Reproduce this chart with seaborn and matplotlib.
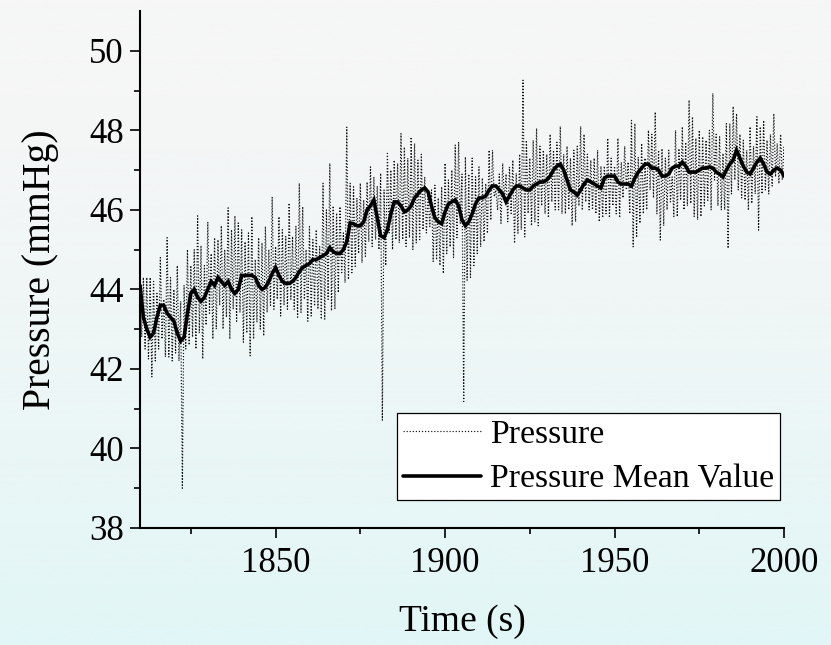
import numpy as np
import matplotlib
matplotlib.use("Agg")
import matplotlib.pyplot as plt
from matplotlib.ticker import FixedLocator
import seaborn as sns

# ---------------- data ----------------
start_time = 1810  # s, one beat (high, low) per second

pressure_high = [
    44.3, 44.3, 44.3, 44.3, 44.2, 43.9, 44.8, 43.75, 45.3, 44.3,
    44.0, 44.6, 43.7, 44.1, 45.0, 44.6, 45.0, 45.85, 45.1, 44.6,
    45.7, 44.9, 45.3, 45.25, 45.6, 45.0, 46.05, 45.5, 45.85, 45.67,
    45.5, 45.2, 45.42, 45.83, 44.75, 45.3, 45.17, 45.58, 45.0, 46.33,
    45.08, 45.83, 45.5, 45.33, 46.17, 45.33, 45.6, 46.67, 46.08, 45.0,
    45.58, 45.25, 45.5, 45.08, 46.67, 46.0, 47.17, 46.1, 45.92, 46.08,
    45.42, 48.08, 46.67, 46.58, 46.3, 46.67, 46.25, 46.7, 47.08, 46.83,
    46.6, 46.92, 46.5, 47.42, 47.0, 47.25, 47.17, 47.92, 47.58, 47.3,
    47.83, 47.67, 47.25, 47.4, 46.83, 46.42, 46.5, 46.62, 46.3, 46.58,
    47.17, 46.75, 47.0, 47.63, 47.71, 46.9, 47.33, 46.9, 47.3, 46.83,
    47.08, 46.8, 46.66, 47.5, 47.5, 46.5, 46.9, 47.17, 46.9, 47.08,
    47.25, 46.92, 47.4, 49.26, 47.75, 47.3, 47.75, 48.05, 47.6, 47.5,
    47.4, 47.9, 47.5, 47.7, 48.1, 47.4, 47.6, 47.3, 47.5, 47.6,
    48.1, 47.9, 47.4, 47.25, 47.3, 47.5, 47.1, 47.1, 47.8, 47.3,
    47.1, 47.8, 47.2, 47.6, 47.2, 48.25, 48.17, 47.33, 47.67, 47.3,
    48.0, 47.9, 48.46, 47.5, 47.54, 47.3, 47.5, 46.83, 48.0, 47.54,
    48.09, 47.7, 48.76, 48.34, 47.8, 48.0, 47.84, 47.75, 48.0, 48.93,
    47.9, 47.84, 47.42, 48.17, 48.17, 48.6, 48.42, 47.9, 47.75, 47.5,
    48.09, 47.6, 48.34, 48.09, 48.25, 47.75, 47.9, 48.42, 47.67, 47.9,
    47.58,
]

pressure_low = [
    42.8, 42.5, 42.25, 41.8, 42.2, 42.5, 42.75, 42.3, 42.3, 42.2,
    42.4, 42.2, 39.0, 42.5, 42.6, 42.8, 42.5, 42.9, 42.25, 43.1,
    43.4, 42.75, 43.0, 43.6, 43.0, 43.3, 42.75, 43.5, 43.2, 43.42,
    42.67, 42.9, 42.33, 42.75, 43.17, 43.0, 42.83, 43.42, 43.6, 43.5,
    43.75, 43.33, 43.6, 43.5, 43.75, 43.5, 43.3, 43.42, 43.75, 43.2,
    43.33, 43.58, 43.5, 43.25, 43.25, 43.75, 43.46, 43.5, 43.92, 44.42,
    44.17, 44.25, 44.42, 44.58, 44.9, 44.67, 44.83, 45.2, 45.08, 45.25,
    45.0, 40.71, 44.6, 45.42, 45.0, 45.25, 45.17, 45.25, 45.08, 45.3,
    45.0, 45.17, 45.25, 45.5, 45.42, 45.58, 44.7, 44.74, 44.6, 44.4,
    44.9, 45.07, 44.8, 45.3, 45.66, 41.18, 44.23, 44.3, 44.6, 44.9,
    45.07, 45.2, 45.41, 45.74, 46.33, 45.99, 45.66, 46.24, 45.7, 45.91,
    45.16, 45.41, 45.5, 45.32, 45.91, 45.6, 45.7, 45.6, 46.1, 45.9,
    45.8, 46.2, 46.0, 46.0, 45.9, 45.9, 46.0, 45.6, 45.7, 46.1,
    45.99, 46.2, 46.0, 46.0, 45.9, 45.7, 45.8, 45.9, 45.8, 46.1,
    45.9, 45.8, 46.3, 46.5, 45.9, 45.07, 45.3, 45.66, 45.9, 46.0,
    46.5, 46.3, 45.9, 45.24, 45.6, 46.0, 46.2, 45.83, 45.83, 46.24,
    46.0, 46.1, 46.16, 45.83, 45.75, 45.83, 46.1, 46.24, 46.0, 46.75,
    46.1, 45.99, 46.0, 45.03, 46.4, 46.75, 46.5, 46.3, 46.24, 45.99,
    46.16, 46.4, 45.49, 46.4, 46.5, 46.4, 46.6, 46.83, 46.66, 46.75,
    46.8,
]

mean_value = [
    44.1, 43.3, 43.0, 42.8, 42.9, 43.3, 43.6, 43.6, 43.4, 43.3,
    43.2, 42.9, 42.7, 42.8, 43.4, 43.9, 44.0, 43.8, 43.7, 43.8,
    44.0, 44.2, 44.1, 44.3, 44.2, 44.1, 44.2, 44.0, 43.9, 44.0,
    44.35, 44.35, 44.35, 44.35, 44.3, 44.1, 44.0, 44.05, 44.2, 44.4,
    44.55, 44.35, 44.2, 44.15, 44.15, 44.2, 44.3, 44.45, 44.55, 44.6,
    44.65, 44.75, 44.75, 44.8, 44.85, 44.9, 45.05, 44.95, 44.9, 44.9,
    45.0, 45.2, 45.67, 45.65, 45.6, 45.6, 45.7, 46.0, 46.1, 46.25,
    45.8, 45.35, 45.3, 45.5, 45.9, 46.2, 46.2, 46.1, 45.95, 46.0,
    46.1, 46.3, 46.4, 46.5, 46.55, 46.45, 46.1, 45.8, 45.7, 45.65,
    45.95, 46.15, 46.2, 46.25, 46.1, 45.75, 45.6, 45.7, 45.9, 46.15,
    46.3, 46.3, 46.35, 46.5, 46.6, 46.6, 46.5, 46.4, 46.2, 46.35,
    46.5, 46.6, 46.6, 46.55, 46.5, 46.5, 46.6, 46.65, 46.7, 46.7,
    46.75, 46.85, 47.0, 47.1, 47.15, 47.0, 46.75, 46.5, 46.45, 46.37,
    46.5, 46.65, 46.75, 46.7, 46.65, 46.6, 46.55, 46.8, 46.85, 46.85,
    46.85, 46.7, 46.65, 46.65, 46.65, 46.6, 46.8, 46.95, 47.05, 47.15,
    47.15, 47.05, 47.05, 47.0, 46.85, 46.85, 46.9, 47.05, 47.1, 47.1,
    47.2, 47.1, 46.95, 46.95, 46.95, 47.0, 47.05, 47.05, 47.08, 47.05,
    46.95, 46.9, 46.83, 47.0, 47.15, 47.25, 47.5, 47.3, 47.1, 46.95,
    46.9, 47.05, 47.2, 47.3, 47.15, 46.95, 46.9, 47.0, 47.05, 47.0,
    46.85,
]

x_major_ticks = [1850, 1900, 1950, 2000]
x_minor_ticks = [1825, 1875, 1925, 1975]
y_major_ticks = [38, 40, 42, 44, 46, 48, 50]
y_minor_ticks = [39, 41, 43, 45, 47, 49]

# ---------------- build series ----------------
pressure = np.empty(2 * len(pressure_high))
pressure[0::2] = pressure_high
pressure[1::2] = pressure_low
pressure_time = start_time + 0.5 * np.arange(len(pressure))
mean_time = start_time + np.arange(len(mean_value))

# ---------------- style ----------------
sns.set_style("ticks")
plt.rcParams["font.family"] = ["Liberation Serif", "DejaVu Serif"]

W, H = 831, 645
fig = plt.figure(figsize=(W / 100, H / 100), dpi=100)

# gradient background (light grey at top -> pale cyan at bottom)
bg = fig.add_axes([0, 0, 1, 1], zorder=-10)
n = 256
tt = np.linspace(0, 1, n) ** 1.6
top = np.array([246, 246, 246]) / 255
bot = np.array([225, 246, 246]) / 255
grad = (top[None, :] * (1 - tt[:, None]) + bot[None, :] * tt[:, None])
bg.imshow(grad[:, None, :], aspect="auto", extent=[0, 1, 0, 1], origin="upper")
bg.set_axis_off()

left, right, top_px, bottom_px = 140, 784, 11, 528
ax = fig.add_axes([left / W, (H - bottom_px) / H, (right - left) / W, (bottom_px - top_px) / H])
ax.patch.set_alpha(0)

raw_style = (0, (1.0, 1.6))
sns.lineplot(x=pressure_time, y=pressure, ax=ax, color="#111111", linewidth=0.85,
             label="Pressure", sort=False, estimator=None)
sns.lineplot(x=mean_time, y=mean_value, ax=ax, color="black", linewidth=2.6,
             label="Pressure Mean Value", sort=False, estimator=None)
ax.lines[0].set_linestyle(raw_style)
ax.lines[1].set_solid_joinstyle("miter")

ax.set_xlim(1810, 2000)
ax.set_ylim(38, 51)
ax.xaxis.set_major_locator(FixedLocator(x_major_ticks))
ax.xaxis.set_minor_locator(FixedLocator(x_minor_ticks))
ax.yaxis.set_major_locator(FixedLocator(y_major_ticks))
ax.yaxis.set_minor_locator(FixedLocator(y_minor_ticks))

for s in ["top", "right"]:
    ax.spines[s].set_visible(False)
for s in ["left", "bottom"]:
    ax.spines[s].set_color("black")
    ax.spines[s].set_linewidth(1.5)

ax.tick_params(axis="both", which="major", direction="out", length=7.5, width=1.2,
               color="black", labelsize=25, labelcolor="black")
ax.tick_params(axis="x", which="major", pad=6)
ax.tick_params(axis="y", which="major", pad=4)
ax.tick_params(axis="both", which="minor", direction="out", length=4.5, width=1.2,
               color="black")

ax.set_xlabel("Time (s)", fontsize=27, labelpad=18, color="black")
ax.set_ylabel("Pressure (mmHg)", fontsize=28.5, labelpad=22, color="black")

leg = ax.legend(loc="lower right", bbox_to_anchor=(0.994, 0.054), borderaxespad=0,
                fontsize=24.3, frameon=True, fancybox=False, framealpha=1,
                edgecolor="black", facecolor="white", handlelength=2.3,
                handletextpad=0.28, labelspacing=0.42, borderpad=0.17,
                labelcolor="black")
leg.get_frame().set_linewidth(0.9)
hl = leg.get_lines()
hl[0].set_linestyle(raw_style)
hl[0].set_linewidth(0.85)
hl[1].set_linewidth(2.6)

fig.savefig("out.png", dpi=100)
